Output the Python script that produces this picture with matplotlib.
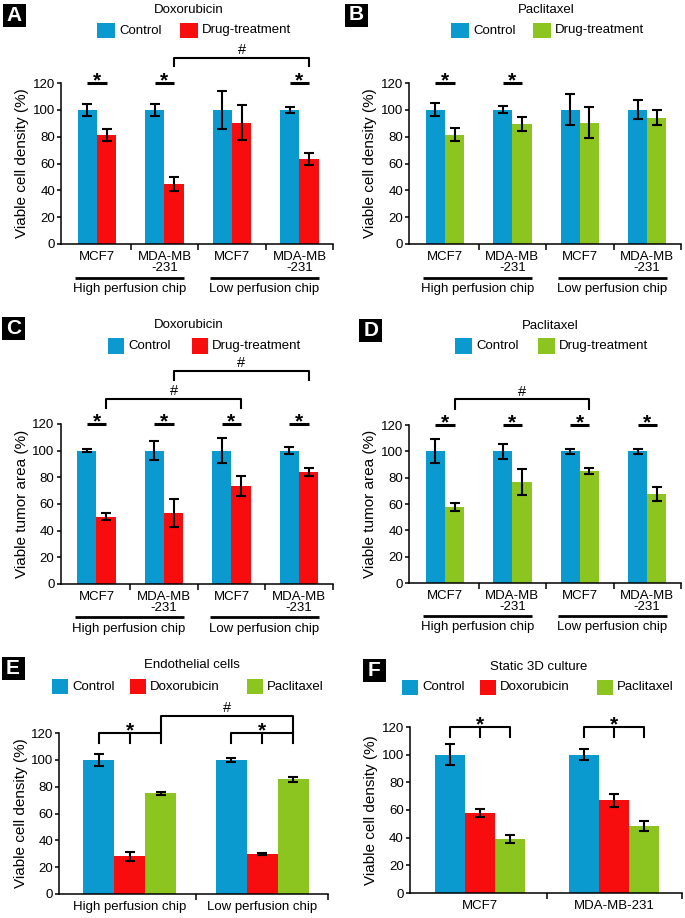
import matplotlib
matplotlib.use('Agg')
import matplotlib.pyplot as plt
from matplotlib.patches import Rectangle
from matplotlib.transforms import offset_copy
import numpy as np

plt.rcParams['font.family'] = ['Liberation Sans', 'DejaVu Sans']

# ---------------- data ----------------
cells4 = ['MCF7', 'MDA-MB\n-231', 'MCF7', 'MDA-MB\n-231']
chips = ['High perfusion chip', 'Low perfusion chip']
lines3 = ['MCF7', 'MDA-MB-231']

# A: doxorubicin, cell density
a_ctrl = [100, 100, 100, 100]
a_ctrl_err = [4.4, 4.4, 14, 2.3]
a_drug = [81, 45, 90.5, 63.5]
a_drug_err = [4.5, 5.2, 13, 4.3]

# B: paclitaxel, cell density
b_ctrl = [100, 100, 100, 100]
b_ctrl_err = [4.8, 2.6, 11.6, 7]
b_drug = [81.6, 89.3, 90.5, 94]
b_drug_err = [5, 5, 11.5, 5.6]

# C: doxorubicin, tumor area
c_ctrl = [100, 100, 100, 100]
c_ctrl_err = [1.3, 7.1, 9.6, 2.8]
c_drug = [50.5, 53, 73.5, 84]
c_drug_err = [2.5, 10.5, 7.5, 3.1]

# D: paclitaxel, tumor area
d_ctrl = [100, 100, 100, 100]
d_ctrl_err = [9, 5.8, 1.9, 1.9]
d_drug = [57.6, 76.6, 85, 67.7]
d_drug_err = [2.8, 9.7, 2.2, 5.4]

# E: endothelial cells
e_ctrl = [100, 100]
e_ctrl_err = [4.7, 1.7]
e_dox = [28, 30]
e_dox_err = [3.4, 0.8]
e_pac = [75, 85.5]
e_pac_err = [1.2, 2]

# F: static 3D culture
f_ctrl = [100, 100]
f_ctrl_err = [7.5, 3.9]
f_dox = [58, 67]
f_dox_err = [2.9, 4.7]
f_pac = [38.8, 48.3]
f_pac_err = [2.9, 3.6]

blue = '#0A9AD0'
red = '#F70D0D'
green = '#8CC420'

W, H = 685, 918
fig = plt.figure(figsize=(W / 100, H / 100), dpi=100)


def rect(left, top, width, height):
    return [left / W, 1 - (top + height) / H, width / W, height / H]


def bars(ax, series, errs, colors, width):
    n = len(series)
    x = np.arange(len(series[0]))
    offs = (np.arange(n) - (n - 1) / 2) * width
    for vals, err, col, off in zip(series, errs, colors, offs):
        ax.bar(x + off, vals, width, color=col, linewidth=0, yerr=err, zorder=2,
               error_kw=dict(ecolor='black', elinewidth=1.5, capsize=3.3, capthick=1.5))
    return offs


def style(ax, cats, xlim, ylabel):
    ax.set_xlim(xlim)
    ax.set_ylim(0, 120)
    for s in ['top', 'right']:
        ax.spines[s].set_visible(False)
    for s in ['left', 'bottom']:
        ax.spines[s].set_linewidth(1.1)
    ax.set_yticks(range(0, 121, 20))
    ax.tick_params(axis='y', direction='out', length=3, width=1.1, pad=1.5, labelsize=9.5)
    n = len(cats)
    ax.set_xticks(np.arange(n) + 0.5)
    ax.set_xticklabels([])
    ax.set_xticks(np.arange(n), minor=True)
    ax.set_xticklabels(cats, minor=True, fontsize=9.5, linespacing=0.95)
    ax.tick_params(axis='x', which='major', direction='out', length=4, width=1.1)
    ax.tick_params(axis='x', which='minor', length=0, pad=5)
    ax.set_ylabel(ylabel, fontsize=11)
    ax.yaxis.set_label_coords(-0.118, 0.5)


def put_star(ax, x, y):
    tr = offset_copy(ax.transData, fig=fig, y=-2.4, units='points')
    ax.text(x, y, '*', transform=tr, ha='center', va='baseline',
            fontsize=15, fontweight='bold')


def star(ax, x0, x1, y=120):
    ax.plot([x0, x1], [y, y], color='k', lw=2.2, clip_on=False, solid_capstyle='butt')
    put_star(ax, (x0 + x1) / 2, y)


def bracket(ax, x0, x1, y, leg, label, mid=None):
    ax.plot([x0, x0, x1, x1], [y - leg, y, y, y - leg], color='k', lw=1.5, clip_on=False)
    if mid is not None:
        ax.plot([mid, mid], [y, y - leg], color='k', lw=1.5, clip_on=False)
    if label == '*':
        put_star(ax, (x0 + x1) / 2, y)
    else:
        ax.text((x0 + x1) / 2, y + 0.5, label, ha='center', va='bottom', fontsize=10.5)


def chip_groups(ax):
    for i, name in zip([0, 2], chips):
        ax.plot([i - 0.32, i + 1.29], [-25, -25], color='k', lw=2, clip_on=False,
                solid_capstyle='butt')
        ax.text(i + 0.48, -33.5, name, ha='center', va='center', fontsize=9.5)


def legend(title, tx, ty, labels, colors, xs, yc, w, h=15):
    fig.text(tx / W, 1 - ty / H, title, ha='center', va='center', fontsize=9.5)
    for x, lab, col in zip(xs, labels, colors):
        fig.add_artist(Rectangle((x / W, 1 - (yc + h / 2) / H), w / W, h / H,
                                 transform=fig.transFigure, color=col, lw=0))
        fig.text((x + w + 4) / W, 1 - yc / H, lab, ha='left', va='center', fontsize=9.5)


def panel_label(letter, cx, cy, size=23):
    fig.add_artist(Rectangle(((cx - size / 2) / W, 1 - (cy + size / 2) / H), size / W, size / H,
                             transform=fig.transFigure, color='black', lw=0))
    fig.text(cx / W, 1 - cy / H, letter, ha='center', va='center', color='white',
             fontsize=15, fontweight='bold')


two = ['Control', 'Drug-treatment']
three = ['Control', 'Doxorubicin', 'Paclitaxel']
w2 = 0.286

# ---------------- A ----------------
ax = fig.add_axes(rect(61.2, 83, 272, 161))
offs = bars(ax, [a_ctrl, a_drug], [a_ctrl_err, a_drug_err], [blue, red], w2)
style(ax, cells4, (-0.53, 3.5), 'Viable cell density (%)')
chip_groups(ax)
for i in [0, 1, 3]:
    star(ax, i + offs[0], i + offs[1])
bracket(ax, 1 + offs[1], 3 + offs[1], 139, 6.5, '#')
legend('Doxorubicin', 189, 10, two, [blue, red], [97, 180], 30.5, 18)
panel_label('A', 14.5, 15.5)

# ---------------- B ----------------
ax = fig.add_axes(rect(409.3, 83, 271.6, 161))
offs = bars(ax, [b_ctrl, b_drug], [b_ctrl_err, b_drug_err], [blue, green], w2)
style(ax, cells4, (-0.53, 3.5), 'Viable cell density (%)')
chip_groups(ax)
for i in [0, 1]:
    star(ax, i + offs[0], i + offs[1])
legend('Paclitaxel', 546, 10, two, [blue, green], [451, 533], 30.5, 18)
panel_label('B', 356, 15)

# ---------------- C ----------------
ax = fig.add_axes(rect(60.7, 424, 272, 160))
offs = bars(ax, [c_ctrl, c_drug], [c_ctrl_err, c_drug_err], [blue, red], w2)
style(ax, cells4, (-0.53, 3.5), 'Viable tumor area (%)')
chip_groups(ax)
for i in range(4):
    star(ax, i + offs[0], i + offs[1])
bracket(ax, 0 + offs[1], 2 + offs[1], 139, 7, '#')
bracket(ax, 1 + offs[1], 3 + offs[1], 160, 7, '#')
legend('Doxorubicin', 189, 325, two, [blue, red], [108, 192], 346, 16)
panel_label('C', 13.5, 328)

# ---------------- D ----------------
ax = fig.add_axes(rect(409.3, 425, 271.6, 158))
offs = bars(ax, [d_ctrl, d_drug], [d_ctrl_err, d_drug_err], [blue, green], w2)
style(ax, cells4, (-0.53, 3.5), 'Viable tumor area (%)')
chip_groups(ax)
for i in range(4):
    star(ax, i + offs[0], i + offs[1])
bracket(ax, 0 + offs[1], 2 + offs[1], 139.5, 7, '#')
legend('Paclitaxel', 550, 326, two, [blue, green], [455, 538], 346, 17)
panel_label('D', 371, 330)

# ---------------- E ----------------
ax = fig.add_axes(rect(59.3, 733, 269, 161))
offs = bars(ax, [e_ctrl, e_dox, e_pac], [e_ctrl_err, e_dox_err, e_pac_err],
            [blue, red, green], 0.234)
style(ax, chips, (-0.53, 1.5), 'Viable cell density (%)')
for i in range(2):
    bracket(ax, i + offs[0], i + offs[2], 120, 7.5, '*', mid=i + offs[1])
bracket(ax, 0 + offs[2], 1 + offs[2], 133, 13, '#')
legend('Endothelial cells', 192, 665, three, [blue, red, green], [52, 130, 247], 686.5, 16)
panel_label('E', 13, 668)

# ---------------- F ----------------
ax = fig.add_axes(rect(410, 727, 271.7, 166))
offs = bars(ax, [f_ctrl, f_dox, f_pac], [f_ctrl_err, f_dox_err, f_pac_err],
            [blue, red, green], 0.223)
style(ax, lines3, (-0.52, 1.5), 'Viable cell density (%)')
for i in range(2):
    bracket(ax, i + offs[0], i + offs[2], 120, 7, '*', mid=i + offs[1])
legend('Static 3D culture', 539, 667, three, [blue, red, green], [402, 480, 597], 687, 16)
panel_label('F', 374, 670)

fig.savefig('out.png', dpi=100)
